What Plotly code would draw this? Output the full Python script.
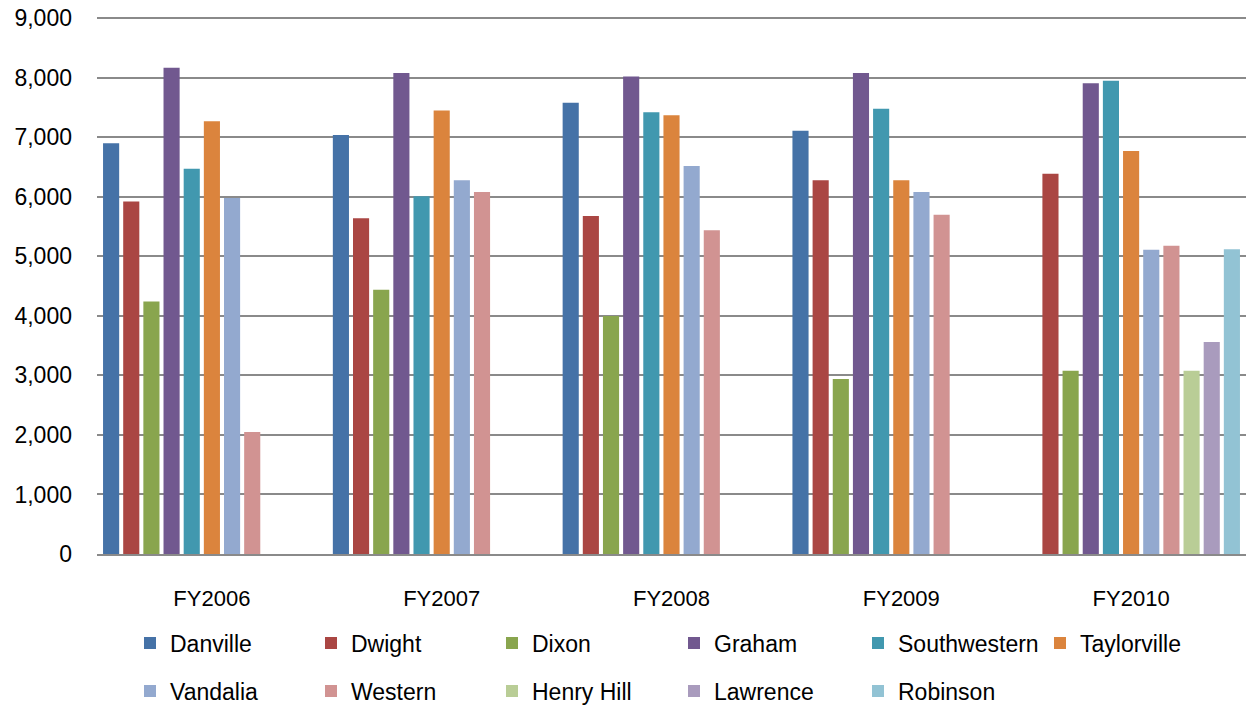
"""Clustered bar chart of FY2006-FY2010 values by facility"""

import plotly.graph_objects as go

years = ['FY2006', 'FY2007', 'FY2008', 'FY2009', 'FY2010']

# one list per facility, None where there is no bar
danville = [6900, 7040, 7580, 7110, None]
dwight = [5920, 5640, 5680, 6280, 6390]
dixon = [4240, 4440, 4000, 2940, 3080]
graham = [8170, 8080, 8020, 8080, 7910]
southwestern = [6470, 6010, 7420, 7480, 7950]
taylorville = [7270, 7450, 7370, 6280, 6770]
vandalia = [5980, 6280, 6520, 6080, 5110]
western = [2050, 6080, 5440, 5700, 5180]
henry_hill = [None, None, None, None, 3080]
lawrence = [None, None, None, None, 3560]
robinson = [None, None, None, None, 5120]

names = ['Danville', 'Dwight', 'Dixon', 'Graham', 'Southwestern', 'Taylorville',
         'Vandalia', 'Western', 'Henry Hill', 'Lawrence', 'Robinson']
series = [danville, dwight, dixon, graham, southwestern, taylorville,
          vandalia, western, henry_hill, lawrence, robinson]
colors = ['#4572A7', '#AA4643', '#89A54E', '#71588F', '#4198AF', '#DB843D',
          '#93A9CF', '#D19392', '#B9CD96', '#A99BBD', '#92C3D4']

FONT = 'Liberation Sans, Arial, sans-serif'
W, H = 1247, 706

# legend laid out like the excel one: 6 columns, 2 rows (pixel centres of the swatches)
col_x = [150, 331, 512, 694, 878, 1060]
row_y = [643, 691]

fig = go.Figure()
layout_legends = {}
for i, (name, vals, col) in enumerate(zip(names, series, colors)):
    key = 'legend' if i == 0 else 'legend%d' % (i + 1)
    fig.add_trace(go.Bar(x=years, y=vals, name=name, marker_color=col,
                         marker_line_width=0, legend=key))
    cx = col_x[i % 6]
    cy = row_y[i // 6]
    layout_legends[key] = dict(
        xref='container', yref='container',
        x=(cx - 20) / W, y=1 - cy / H,
        xanchor='left', yanchor='middle',
        bgcolor='rgba(0,0,0,0)',
        font=dict(family=FONT, size=23, color='#000000'),
    )

fig.update_layout(
    width=W, height=H,
    margin=dict(l=97, r=1, t=15, b=152, autoexpand=False),
    paper_bgcolor='white', plot_bgcolor='white',
    barmode='group', bargap=0.035, bargroupgap=0.2,
    font=dict(family=FONT, size=23, color='#000000'),
    showlegend=True,
    **layout_legends
)

fig.update_xaxes(showline=True, linecolor='#8a8a8a', linewidth=2,
                 showgrid=False, ticks='', ticklabelstandoff=24,
                 tickfont=dict(family=FONT, size=22))
fig.update_yaxes(range=[0, 9055], dtick=1000, tickformat=',',
                 showgrid=True, gridcolor='#8a8a8a', gridwidth=2,
                 zeroline=False, showline=False, ticks='',
                 ticklabelstandoff=24, tickfont=dict(family=FONT, size=23))

# page body margin would shift the figure by 8px
fig.write_html('out.html', config={'displayModeBar': False},
               post_script="document.body.style.margin='0';")
